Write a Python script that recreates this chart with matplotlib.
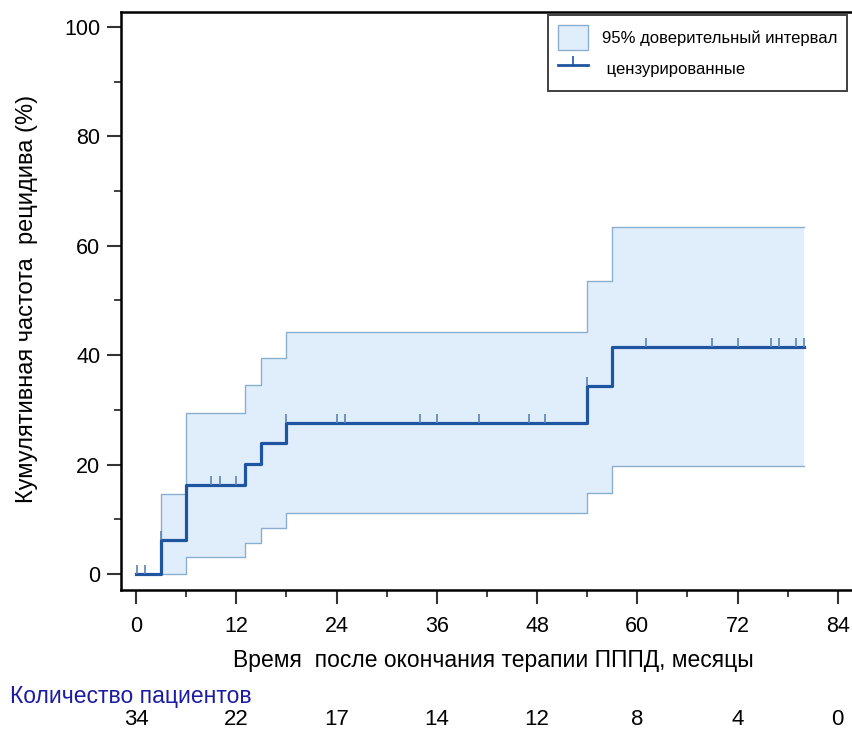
import numpy as np
import matplotlib
matplotlib.use('Agg')
import matplotlib.pyplot as plt
from matplotlib.patches import Patch
from matplotlib.lines import Line2D
from matplotlib.path import Path

plt.rcParams['font.family'] = ['Liberation Sans', 'DejaVu Sans']

# --- Data ---
# event times (months) and cumulative recurrence (%)
times = [0, 3, 6, 13, 15, 18, 54, 57, 80]
cum_pct = [0, 6.2, 16.3, 20.1, 23.9, 27.7, 34.4, 41.5, 41.5]
ci_low = [0, 0, 3.2, 5.7, 8.4, 11.2, 14.9, 19.7, 19.7]
ci_high = [0, 14.6, 29.4, 34.6, 39.5, 44.2, 53.6, 63.4, 63.4]

# censored observations
cens_x = [0.1, 1.1, 3, 9, 10, 12, 18, 24, 25, 34, 36, 41, 47, 49, 54,
          61, 69, 72, 76, 77, 79, 80]

# number at risk
risk_t = [0, 12, 24, 36, 48, 60, 72, 84]
risk_n = [34, 22, 17, 14, 12, 8, 4, 0]

LINE_C = '#1f55a0'
FILL_C = '#e0eefc'
EDGE_C = '#8aaed0'
TICK_C = '#5a84b2'

fig = plt.figure(figsize=(8.52, 7.33), dpi=100)
ax = fig.add_axes([121 / 852, 143 / 733, 731 / 852, 578 / 733])

# confidence band
ax.fill_between(times, ci_low, ci_high, step='post', color=FILL_C, lw=0)
ax.step(times, ci_high, where='post', color=EDGE_C, lw=1)
ax.step(times[1:], ci_low[1:], where='post', color=EDGE_C, lw=1)

# step curve
ax.step(times, cum_pct, where='post', color=LINE_C, lw=2.3, zorder=4)

# censor marks: small upward ticks on the curve
cens_y = [cum_pct[np.searchsorted(times, t, side='right') - 1] for t in cens_x]
up_tick = Path([(0, 0), (0, 1)])
ax.plot(cens_x, cens_y, ls='none', marker=up_tick, markersize=13,
        markeredgecolor=TICK_C, markeredgewidth=1.2, zorder=5)

ax.set_xlim(-1.8, 85.7)
ax.set_ylim(-2.9, 102.7)
ax.set_xticks(risk_t)
ax.set_xticks(np.arange(6, 84, 12), minor=True)
ax.set_yticks(np.arange(0, 101, 20))
ax.set_yticks(np.arange(10, 100, 20), minor=True)

for s in ['left', 'bottom', 'top']:
    ax.spines[s].set_linewidth(1.8)
ax.spines['right'].set_visible(False)
ax.tick_params(which='major', direction='out', length=10, width=1.5,
               labelsize=15.5, pad=5, color='#333333')
ax.tick_params(axis='x', which='major', pad=9)
ax.tick_params(which='minor', direction='out', length=5, width=1.3, color='#333333')

ax.set_xlabel('Время  после окончания терапии ПППД, месяцы', fontsize=16.5)
ax.xaxis.set_label_coords(0.509, -0.102)
ax.set_ylabel('Кумулятивная частота  рецидива (%)', fontsize=17)
ax.yaxis.set_label_coords(-0.114, 0.503)

# number at risk table
fig.text(10 / 852, 1 - 697 / 733, 'Количество пациентов', fontsize=16.5,
         color='#1c1ca0', va='center', ha='left')
for t, n in zip(risk_t, risk_n):
    ax.text(t, -0.2245, str(n), transform=ax.get_xaxis_transform(),
            ha='center', va='center', fontsize=16, clip_on=False)

# legend
h_ci = Patch(facecolor=FILL_C, edgecolor=EDGE_C, lw=1)
h_cens = Line2D([0, 1, 2], [0, 0, 0], color=LINE_C, lw=2, marker=up_tick,
                markersize=13, markeredgecolor=LINE_C, markeredgewidth=1.2,
                markevery=[1])
leg = ax.legend([h_ci, h_cens], ['95% доверительный интервал', ' цензурированные'],
                loc='upper right', bbox_to_anchor=(847 / 852, 1 - 15 / 733),
                bbox_transform=fig.transFigure, fontsize=12, frameon=True,
                fancybox=False, edgecolor='#111111', handlelength=1.8,
                handleheight=1.9, borderpad=0.6, labelspacing=0.4,
                handletextpad=0.8, borderaxespad=0)
leg.get_frame().set_linewidth(1.4)

fig.savefig('out.png', dpi=100)
